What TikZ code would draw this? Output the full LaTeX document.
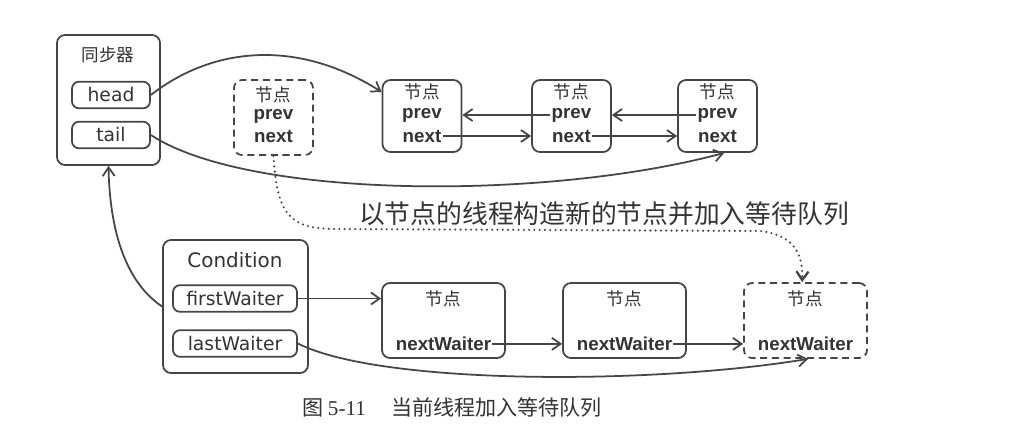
\documentclass[tikz,border=0pt]{standalone}
\usepackage{fontspec}
\newfontfamily\cjk{Noto Sans CJK SC}
\newfontfamily\gothic{DejaVu Sans}
\newfontfamily\arial{Liberation Sans}
\newfontfamily\serif{Liberation Serif}
\usetikzlibrary{arrows.meta}
\definecolor{ln}{HTML}{454545}
\definecolor{tx}{HTML}{333333}
\begin{document}
\begin{tikzpicture}[x=0.03cm,y=-0.03cm,
    box/.style={draw=ln,line width=1.5pt,rounded corners=0.24cm,inner sep=0pt},
    dbox/.style={box,dash pattern=on 6pt off 4pt},
    fld/.style={box,rounded corners=0.21cm,minimum height=0.8cm,font=\gothic\fontsize{16}{16}\selectfont,text=tx},
    hz/.style={font=\cjk\fontsize{15}{15}\selectfont,text=tx,inner sep=1pt},
    ptr/.style={font=\arial\bfseries\fontsize{16}{16}\selectfont,text=tx,inner sep=1pt},
    arr/.style={draw=ln,line width=1.5pt,-{Straight Barb[length=2.6mm,width=3.6mm]}}]
    \fill[white] (0,0) rectangle (1034,443);
    \useasboundingbox (0,0) rectangle (1034,443);
    % synchronizer
    \node[box,minimum width=3.09cm,minimum height=3.9cm] (sync) at (108.5,100) {};
    \node[hz] (synct) at (108,55) {同步器};
    \node[fld,minimum width=2.34cm] (head) at (111,95) {head};
    \node[fld,minimum width=2.34cm] (tail) at (111,135) {tail};
    % new node
    \node[dbox,minimum width=2.37cm,minimum height=2.25cm] (dn) at (273.5,117.5) {};
    \node[hz] (dnt) at (273.5,95) {节点};
    \node[ptr] (dnp) at (273.5,116) {prev};
    \node[ptr] (dnn) at (273.5,136) {next};
    % sync queue
    \foreach \i/\x in {1/422,2/571.5,3/717.5}{
      \node[box,minimum width=2.37cm,minimum height=2.16cm] (n\i) at (\x,116) {};
      \node[hz] (n\i t) at (\x,92) {节点};
      \node[ptr] (n\i p) at (\x,115) {prev};
      \node[ptr] (n\i n) at (\x,136) {next};
    }
    \draw[arr] (n2p.west) -- (n2p.west -| n1.east);
    \draw[arr] (n3p.west) -- (n3p.west -| n2.east);
    \draw[arr] (n1n.east) -- (n1n.east -| n2.west);
    \draw[arr] (n2n.east) -- (n2n.east -| n3.west);
    \draw[arr] (head.east) .. controls (215,45) and (300,40) .. (n1.west |- n1t);
    \draw[arr] (tail.east) .. controls (250,200) and (550,200) .. ([xshift=0.2cm]n3.south);
    % condition
    \node[box,minimum width=4.35cm,minimum height=3.99cm] (cond) at (235.5,306.5) {};
    \node[font=\gothic\fontsize{17}{17}\selectfont,text=tx] (condt) at (235,260) {Condition};
    \node[fld,minimum width=3.72cm] (fw) at (235,298.5) {firstWaiter};
    \node[fld,minimum width=3.72cm] (lw) at (235,343.5) {lastWaiter};
    % wait queue
    \node[box,minimum width=3.69cm,minimum height=2.25cm] (w1) at (443.5,320.5) {};
    \node[box,minimum width=3.69cm,minimum height=2.25cm] (w2) at (624.5,320.5) {};
    \node[dbox,minimum width=3.69cm,minimum height=2.25cm] (w3) at (805.5,320.5) {};
    \foreach \i in {1,2,3}{
      \node[hz] (w\i t) at ([yshift=-0.5cm]w\i.north) {节点};
      \node[ptr] (w\i n) at ([yshift=0.45cm]w\i.south) {nextWaiter};
    }
    \draw[arr] (fw.east) -- (fw.east -| w1.west);
    \draw[arr] (w1n.east) -- (w1n.east -| w2.west);
    \draw[arr] (w2n.east) -- (w2n.east -| w3.west);
    \draw[arr] (lw.east) .. controls (380,385) and (650,385) .. ([xshift=0.08cm]w3.south);
    \draw[arr] (cond.west) .. controls (130,285) and (110,240) .. (sync.south);
    \draw[arr,line width=2pt,line cap=round,dash pattern=on 0pt off 4.5pt]
      (dn.south) .. controls (277,222) and (295,229) .. (340,229)
      -- (760,231) .. controls (795,235) and (803,255) .. ([xshift=-0.1cm]w3.north);
    \node[font=\cjk\fontsize{22}{22}\selectfont,text=tx] (lbl) at (604,214) {以节点的线程构造新的节点并加入等待队列};
    % caption
    \node[font=\cjk\fontsize{18}{18}\selectfont,text=tx,anchor=west] (cap) at (298,407)
      {图 {\serif 5-11}\hspace{1.2em}当前线程加入等待队列};
\end{tikzpicture}
\end{document}
